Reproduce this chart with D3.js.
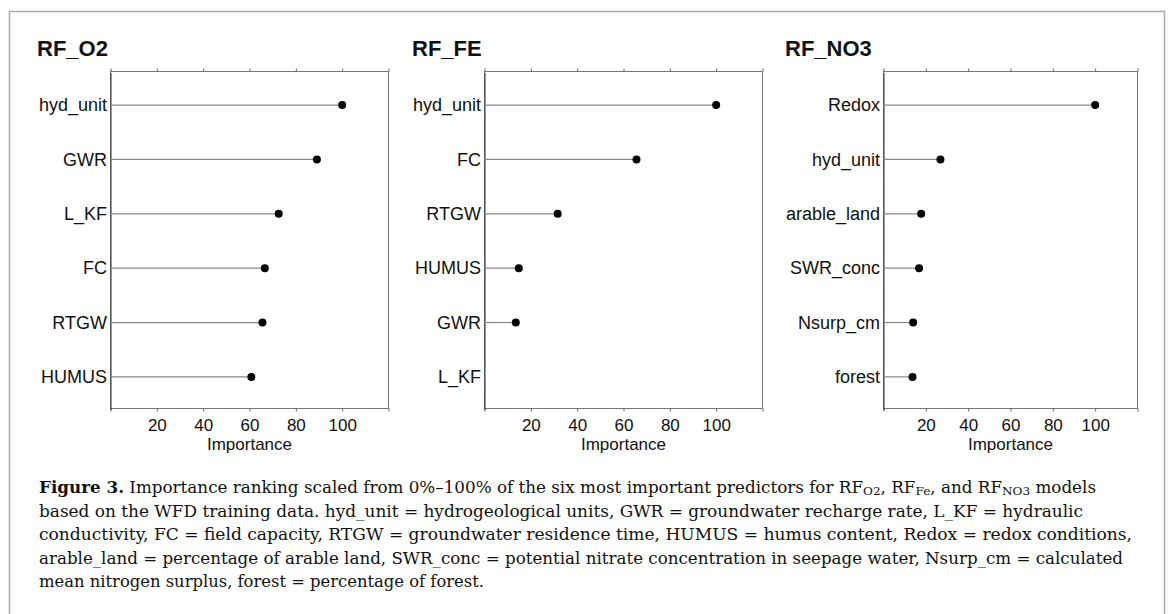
<!DOCTYPE html>
<html>
<head>
<meta charset="utf-8">
<script src="https://cdn.jsdelivr.net/npm/d3@7"></script>
<style>
  body { margin: 0; background: #fff; }
  svg { display: block; }
</style>
</head>
<body>
<div id="chart"></div>
<script>
// figure size
var svgWidth = 1171;
var svgHeight = 614;

// data (importance, scaled 0-100)
var o2Vars = ["hyd_unit", "GWR", "L_KF", "FC", "RTGW", "HUMUS"];
var o2Values = [100, 89.1, 72.6, 66.6, 65.6, 60.8];

var feVars = ["hyd_unit", "FC", "RTGW", "HUMUS", "GWR", "L_KF"];
var feValues = [100, 65.6, 31.6, 14.8, 13.5, 0];

var no3Vars = ["Redox", "hyd_unit", "arable_land", "SWR_conc", "Nsurp_cm", "forest"];
var no3Values = [100, 26.9, 17.8, 16.8, 14.0, 13.7];

var xTicks = [0, 20, 40, 60, 80, 100, 120];
var xTickLabels = ["", "20", "40", "60", "80", "100", ""];

var titles = ["RF_O2", "RF_FE", "RF_NO3"];

// panel layout
var panels = [
    { title: titles[0], vars: o2Vars, values: o2Values, left: 110.5, right: 388.5, titleX: 37 },
    { title: titles[1], vars: feVars, values: feValues, left: 484.5, right: 762.5, titleX: 412 },
    { title: titles[2], vars: no3Vars, values: no3Values, left: 883.5, right: 1137.5, titleX: 785 }
];
var plotTop = 71.5, plotBottom = 408.5;

var svg = d3.select("#chart")
    .append("svg")
    .attr("width", svgWidth)
    .attr("height", svgHeight);

// outer frame
svg.append("rect")
    .attr("x", 9.5)
    .attr("y", 11.5)
    .attr("width", 1155)
    .attr("height", 640)
    .attr("fill", "none")
    .attr("stroke", "#aaa")
    .attr("stroke-width", 1.5);

var sans = "'Liberation Sans', Arial, sans-serif";

panels.forEach(function(p) {
    var data = p.vars.map(function(v, i) { return { name: v, value: p.values[i] }; });

    var xScale = d3.scaleLinear()
        .domain([0, 120])
        .range([p.left, p.right]);

    var yScale = d3.scalePoint()
        .domain(p.vars)
        .range([plotTop + 1, plotBottom + 1])
        .padding(0.6);

    var g = svg.append("g");

    // title
    g.append("text")
        .attr("x", p.titleX)
        .attr("y", 56)
        .attr("font-family", sans)
        .attr("font-weight", "bold")
        .attr("font-size", "22px")
        .attr("fill", "#111")
        .text(p.title);

    // box
    g.append("rect")
        .attr("x", p.left)
        .attr("y", plotTop)
        .attr("width", p.right - p.left)
        .attr("height", plotBottom - plotTop)
        .attr("fill", "none")
        .attr("stroke", "#777")
        .attr("stroke-width", 1);

    // top axis (ticks only)
    var xTop = d3.axisTop(xScale)
        .tickValues(xTicks)
        .tickSize(3)
        .tickFormat("");
    g.append("g")
        .attr("transform", `translate(0,${plotTop})`)
        .call(xTop)
        .call(function(a) {
            a.select(".domain").remove();
            a.selectAll("line").attr("stroke", "#666");
        });

    // bottom axis
    var xBottom = d3.axisBottom(xScale)
        .tickValues(xTicks)
        .tickSize(3)
        .tickPadding(7)
        .tickFormat(function(d, i) { return xTickLabels[i]; });
    g.append("g")
        .attr("transform", `translate(0,${plotBottom})`)
        .call(xBottom)
        .call(function(a) {
            a.select(".domain").remove();
            a.selectAll("line").attr("stroke", "#666");
            a.selectAll("text")
                .attr("font-family", sans)
                .attr("font-size", "17px")
                .attr("fill", "#111");
        });

    // left axis labels
    var yAxis = d3.axisLeft(yScale)
        .tickSize(0)
        .tickPadding(3.5);
    g.append("g")
        .attr("transform", `translate(${p.left},0)`)
        .call(yAxis)
        .call(function(a) {
            a.select(".domain").attr("stroke", "#333");
            a.selectAll("text")
                .attr("font-family", sans)
                .attr("font-size", "18px")
                .attr("fill", "#111");
        });

    // x label
    g.append("text")
        .attr("x", (p.left + p.right) / 2)
        .attr("y", 450)
        .attr("text-anchor", "middle")
        .attr("font-family", sans)
        .attr("font-size", "17px")
        .attr("fill", "#111")
        .text("Importance");

    // lollipop lines
    g.selectAll(".stem")
        .data(data.filter(function(d) { return d.value > 0; }))
        .enter()
        .append("line")
        .attr("class", "stem")
        .attr("x1", xScale(0))
        .attr("x2", function(d) { return xScale(d.value); })
        .attr("y1", function(d) { return yScale(d.name); })
        .attr("y2", function(d) { return yScale(d.name); })
        .attr("stroke", "#888")
        .attr("stroke-width", 1.2);

    // dots
    g.selectAll(".dot")
        .data(data.filter(function(d) { return d.value > 0; }))
        .enter()
        .append("circle")
        .attr("class", "dot")
        .attr("cx", function(d) { return xScale(d.value); })
        .attr("cy", function(d) { return yScale(d.name); })
        .attr("r", 4)
        .attr("fill", "#000");
});

// caption
var serif = "'DejaVu Serif', 'Liberation Serif', serif";
var captionLines = [
    [{ t: "Figure 3.", b: true }, { t: " Importance ranking scaled from 0%–100% of the six most important predictors for RF" },
     { t: "O2", sub: true }, { t: ", RF" }, { t: "Fe", sub: true }, { t: ", and RF" }, { t: "NO3", sub: true }, { t: " models" }],
    [{ t: "based on the WFD training data. hyd_unit = hydrogeological units, GWR = groundwater recharge rate, L_KF = hydraulic" }],
    [{ t: "conductivity, FC = field capacity, RTGW = groundwater residence time, HUMUS = humus content, Redox = redox conditions," }],
    [{ t: "arable_land = percentage of arable land, SWR_conc = potential nitrate concentration in seepage water, Nsurp_cm = calculated" }],
    [{ t: "mean nitrogen surplus, forest = percentage of forest." }]
];
// right ends of the caption lines in the reference
var captionEnds = [1096, 1083, 1132, 1123, 484];
var captionX = 39;

var caption = svg.append("g")
    .attr("font-family", serif)
    .attr("font-size", "16px")
    .attr("fill", "#111");

captionLines.forEach(function(parts, i) {
    var txt = caption.append("text")
        .attr("x", captionX)
        .attr("y", 493 + i * 23.5)
        .attr("xml:space", "preserve");
    var wasSub = false;
    parts.forEach(function(p) {
        var ts = txt.append("tspan").text(p.t);
        if (p.b) ts.attr("font-weight", "bold");
        if (p.sub) {
            ts.attr("font-size", "11.5px").attr("dy", 2);
        } else if (wasSub) {
            ts.attr("dy", -2);
        }
        wasSub = !!p.sub;
    });
    txt.attr("textLength", captionEnds[i] - captionX)
        .attr("lengthAdjust", "spacingAndGlyphs");
});
</script>
</body>
</html>
